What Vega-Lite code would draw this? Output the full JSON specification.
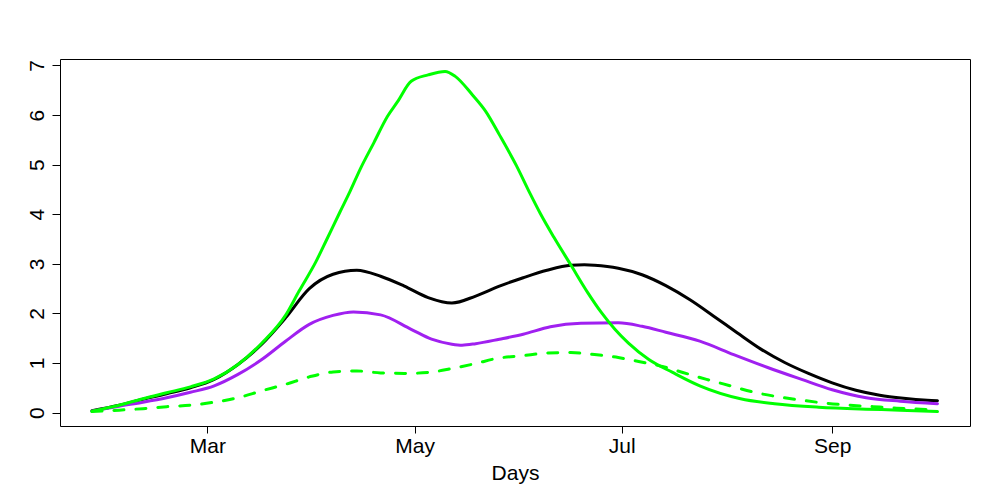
{
  "$schema": "https://vega.github.io/schema/vega-lite/v6.json",
  "width": 910,
  "height": 367,
  "autosize": "none",
  "padding": {"left": 60, "top": 59, "right": 30, "bottom": 74},
  "background": "white",
  "config": {
    "font": "Liberation Sans",
    "view": {"stroke": "black", "strokeWidth": 1},
    "axis": {
      "grid": false,
      "domain": false,
      "tickColor": "black",
      "tickWidth": 1,
      "labelColor": "black",
      "labelFontSize": 21,
      "labelOverlap": false,
      "labelFlush": false,
      "titleColor": "black",
      "titleFontSize": 21,
      "titleFontWeight": "normal"
    }
  },
  "datasets": {
    "black": [
      {"date": "2021-01-26", "value": 0.04},
      {"date": "2021-02-03", "value": 0.15},
      {"date": "2021-02-10", "value": 0.27},
      {"date": "2021-02-17", "value": 0.38},
      {"date": "2021-02-24", "value": 0.50},
      {"date": "2021-03-03", "value": 0.67},
      {"date": "2021-03-10", "value": 0.97},
      {"date": "2021-03-17", "value": 1.38},
      {"date": "2021-03-24", "value": 1.91},
      {"date": "2021-03-31", "value": 2.50},
      {"date": "2021-04-07", "value": 2.79},
      {"date": "2021-04-14", "value": 2.87},
      {"date": "2021-04-21", "value": 2.75},
      {"date": "2021-04-28", "value": 2.55},
      {"date": "2021-05-05", "value": 2.32},
      {"date": "2021-05-12", "value": 2.21},
      {"date": "2021-05-19", "value": 2.35},
      {"date": "2021-05-26", "value": 2.55},
      {"date": "2021-06-02", "value": 2.72},
      {"date": "2021-06-09", "value": 2.87},
      {"date": "2021-06-16", "value": 2.97},
      {"date": "2021-06-20", "value": 2.98},
      {"date": "2021-06-23", "value": 2.97},
      {"date": "2021-06-30", "value": 2.91},
      {"date": "2021-07-07", "value": 2.78},
      {"date": "2021-07-14", "value": 2.56},
      {"date": "2021-07-21", "value": 2.28},
      {"date": "2021-07-28", "value": 1.95},
      {"date": "2021-08-04", "value": 1.61},
      {"date": "2021-08-11", "value": 1.28},
      {"date": "2021-08-18", "value": 1.01},
      {"date": "2021-08-25", "value": 0.79},
      {"date": "2021-09-01", "value": 0.60},
      {"date": "2021-09-08", "value": 0.45},
      {"date": "2021-09-15", "value": 0.35},
      {"date": "2021-09-22", "value": 0.29},
      {"date": "2021-09-29", "value": 0.25},
      {"date": "2021-10-02", "value": 0.24}
    ],
    "purple": [
      {"date": "2021-01-26", "value": 0.03},
      {"date": "2021-02-03", "value": 0.13},
      {"date": "2021-02-10", "value": 0.21},
      {"date": "2021-02-17", "value": 0.30},
      {"date": "2021-02-24", "value": 0.41},
      {"date": "2021-03-03", "value": 0.54},
      {"date": "2021-03-10", "value": 0.77},
      {"date": "2021-03-17", "value": 1.07},
      {"date": "2021-03-24", "value": 1.44},
      {"date": "2021-03-31", "value": 1.78},
      {"date": "2021-04-07", "value": 1.96},
      {"date": "2021-04-13", "value": 2.03},
      {"date": "2021-04-21", "value": 1.97},
      {"date": "2021-04-30", "value": 1.68},
      {"date": "2021-05-06", "value": 1.48},
      {"date": "2021-05-12", "value": 1.38},
      {"date": "2021-05-15", "value": 1.36},
      {"date": "2021-05-19", "value": 1.39},
      {"date": "2021-05-26", "value": 1.48},
      {"date": "2021-06-02", "value": 1.58},
      {"date": "2021-06-10", "value": 1.73},
      {"date": "2021-06-19", "value": 1.80},
      {"date": "2021-06-30", "value": 1.81},
      {"date": "2021-07-07", "value": 1.74},
      {"date": "2021-07-14", "value": 1.62},
      {"date": "2021-07-24", "value": 1.44},
      {"date": "2021-08-03", "value": 1.17},
      {"date": "2021-08-13", "value": 0.91},
      {"date": "2021-08-23", "value": 0.67},
      {"date": "2021-09-01", "value": 0.46},
      {"date": "2021-09-11", "value": 0.30},
      {"date": "2021-09-21", "value": 0.23},
      {"date": "2021-10-02", "value": 0.18}
    ],
    "greenDashed": [
      {"date": "2021-01-26", "value": 0.02},
      {"date": "2021-02-03", "value": 0.05},
      {"date": "2021-02-10", "value": 0.08},
      {"date": "2021-02-17", "value": 0.12},
      {"date": "2021-02-24", "value": 0.15},
      {"date": "2021-03-03", "value": 0.21},
      {"date": "2021-03-10", "value": 0.30},
      {"date": "2021-03-17", "value": 0.44},
      {"date": "2021-03-24", "value": 0.57},
      {"date": "2021-03-31", "value": 0.72},
      {"date": "2021-04-07", "value": 0.82},
      {"date": "2021-04-14", "value": 0.84},
      {"date": "2021-04-21", "value": 0.80},
      {"date": "2021-04-28", "value": 0.79},
      {"date": "2021-05-05", "value": 0.81},
      {"date": "2021-05-12", "value": 0.89},
      {"date": "2021-05-19", "value": 0.99},
      {"date": "2021-05-25", "value": 1.09},
      {"date": "2021-06-02", "value": 1.15},
      {"date": "2021-06-09", "value": 1.20},
      {"date": "2021-06-16", "value": 1.21},
      {"date": "2021-06-23", "value": 1.17},
      {"date": "2021-06-30", "value": 1.11},
      {"date": "2021-07-06", "value": 1.03},
      {"date": "2021-07-13", "value": 0.93},
      {"date": "2021-07-19", "value": 0.81},
      {"date": "2021-07-26", "value": 0.67},
      {"date": "2021-08-02", "value": 0.54},
      {"date": "2021-08-09", "value": 0.41},
      {"date": "2021-08-16", "value": 0.32},
      {"date": "2021-08-23", "value": 0.25},
      {"date": "2021-08-30", "value": 0.19},
      {"date": "2021-09-06", "value": 0.15},
      {"date": "2021-09-13", "value": 0.12},
      {"date": "2021-09-20", "value": 0.09},
      {"date": "2021-09-27", "value": 0.07},
      {"date": "2021-10-02", "value": 0.05}
    ],
    "green": [
      {"date": "2021-01-26", "value": 0.03},
      {"date": "2021-02-03", "value": 0.15},
      {"date": "2021-02-10", "value": 0.28},
      {"date": "2021-02-17", "value": 0.40},
      {"date": "2021-02-24", "value": 0.52},
      {"date": "2021-03-03", "value": 0.68},
      {"date": "2021-03-10", "value": 0.97},
      {"date": "2021-03-17", "value": 1.40},
      {"date": "2021-03-24", "value": 1.96},
      {"date": "2021-03-28", "value": 2.45},
      {"date": "2021-04-02", "value": 3.05},
      {"date": "2021-04-05", "value": 3.47},
      {"date": "2021-04-09", "value": 4.04},
      {"date": "2021-04-12", "value": 4.46},
      {"date": "2021-04-15", "value": 4.91},
      {"date": "2021-04-19", "value": 5.44},
      {"date": "2021-04-23", "value": 5.97},
      {"date": "2021-04-26", "value": 6.27},
      {"date": "2021-04-30", "value": 6.68},
      {"date": "2021-05-05", "value": 6.81},
      {"date": "2021-05-10", "value": 6.88},
      {"date": "2021-05-13", "value": 6.78},
      {"date": "2021-05-18", "value": 6.41},
      {"date": "2021-05-22", "value": 6.07},
      {"date": "2021-05-26", "value": 5.60},
      {"date": "2021-05-31", "value": 4.98},
      {"date": "2021-06-04", "value": 4.42},
      {"date": "2021-06-07", "value": 4.02},
      {"date": "2021-06-11", "value": 3.54},
      {"date": "2021-06-16", "value": 2.98},
      {"date": "2021-06-21", "value": 2.42},
      {"date": "2021-06-25", "value": 2.02},
      {"date": "2021-06-29", "value": 1.68},
      {"date": "2021-07-03", "value": 1.40},
      {"date": "2021-07-09", "value": 1.07},
      {"date": "2021-07-16", "value": 0.81},
      {"date": "2021-07-24", "value": 0.54},
      {"date": "2021-08-05", "value": 0.28},
      {"date": "2021-08-15", "value": 0.18},
      {"date": "2021-08-28", "value": 0.11},
      {"date": "2021-09-11", "value": 0.07},
      {"date": "2021-09-21", "value": 0.05},
      {"date": "2021-10-02", "value": 0.02}
    ]
  },
  "encoding": {
    "x": {
      "field": "date",
      "type": "temporal",
      "scale": {
        "type": "utc",
        "domain": [
          {"year": 2021, "month": 1, "date": 16, "hours": 14, "utc": true},
          {"year": 2021, "month": 10, "date": 11, "hours": 14, "utc": true}
        ]
      },
      "axis": {
        "values": [
          {"year": 2021, "month": 3, "date": 1, "utc": true},
          {"year": 2021, "month": 5, "date": 1, "utc": true},
          {"year": 2021, "month": 7, "date": 1, "utc": true},
          {"year": 2021, "month": 9, "date": 1, "utc": true}
        ],
        "format": "%b",
        "title": "Days",
        "tickSize": 7,
        "labelPadding": 2,
        "labelBaseline": "top",
        "titleBaseline": "alphabetic",
        "titleY": 53
      }
    },
    "y": {
      "field": "value",
      "type": "quantitative",
      "scale": {"domain": [-0.27, 7.13], "nice": false, "zero": false},
      "axis": {
        "values": [0, 1, 2, 3, 4, 5, 6, 7],
        "title": null,
        "tickSize": 8,
        "labelAngle": -90,
        "labelAlign": "center",
        "labelBaseline": "alphabetic",
        "labelPadding": 9
      }
    }
  },
  "layer": [
    {
      "data": {"name": "black"},
      "mark": {"type": "line", "color": "black", "strokeWidth": 3, "interpolate": "monotone", "strokeCap": "round", "strokeJoin": "round"}
    },
    {
      "data": {"name": "purple"},
      "mark": {"type": "line", "color": "#A020F0", "strokeWidth": 3, "interpolate": "monotone", "strokeCap": "round", "strokeJoin": "round"}
    },
    {
      "data": {"name": "greenDashed"},
      "mark": {"type": "line", "color": "#00FF00", "strokeWidth": 3, "interpolate": "monotone", "strokeDash": [10, 12], "strokeCap": "round", "strokeJoin": "round"}
    },
    {
      "data": {"name": "green"},
      "mark": {"type": "line", "color": "#00FF00", "strokeWidth": 3, "interpolate": "monotone", "strokeCap": "round", "strokeJoin": "round"}
    }
  ]
}
